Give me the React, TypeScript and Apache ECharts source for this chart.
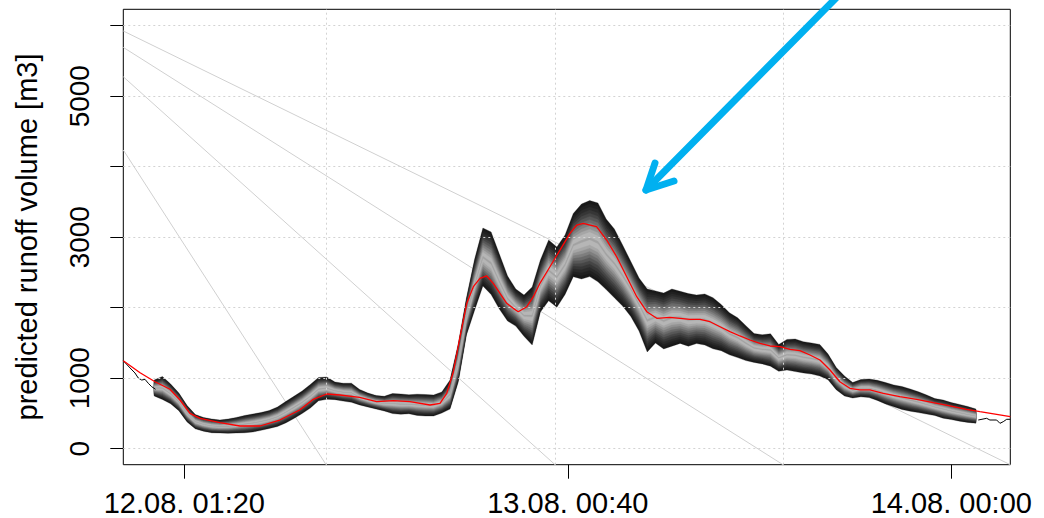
import React, { useEffect, useRef } from 'react';
import * as echarts from 'echarts';

// time in hours since 12.08. 00:00
const HOURS = [-0.5, 0, 0.5, 1, 1.5, 2, 2.5, 3, 3.5, 4, 4.5, 5, 5.5, 6, 6.5, 7, 7.5, 8, 8.5, 9, 9.5, 10, 10.5, 11, 11.5, 12, 12.5, 13, 13.5, 14, 14.5, 15, 15.5, 16, 16.5, 17, 17.5, 18, 18.5, 19, 19.5, 20, 20.5, 21, 21.5, 22, 22.5, 23, 23.5, 24, 24.5, 25, 25.5, 26, 26.5, 27, 27.5, 28, 28.5, 29, 29.5, 30, 30.5, 31, 31.5, 32, 32.5, 33, 33.5, 34, 34.5, 35, 35.5, 36, 36.5, 37, 37.5, 38, 38.5, 39, 39.5, 40, 40.5, 41, 41.5, 42, 42.5, 43, 43.5, 44, 44.5, 45, 45.5, 46, 46.5, 47, 47.5, 48, 48.5, 49, 49.5];

const ENS_UPPER = [974, 1024, 918, 790, 613, 485, 443, 421, 407, 421,
  443, 471, 492, 513, 542, 591, 669, 743, 818, 911,
  1010, 1017, 946, 928, 929, 840, 790, 755, 743, 783,
  776, 765, 773, 769, 762, 804, 974, 1485, 2138, 2691,
  3130, 3074, 2762, 2450, 2265, 2180, 2294, 2677, 2960, 2861,
  3031, 3336, 3471, 3520, 3485, 3258, 3116, 2889, 2655, 2421,
  2265, 2237, 2208, 2265, 2233, 2200, 2180, 2194, 2142, 2045,
  1928, 1857, 1745, 1634, 1616, 1630, 1478, 1550, 1556, 1518,
  1499, 1479, 1343, 1152, 1031, 939, 982, 990, 970, 939,
  904, 882, 847, 808, 762, 711, 691, 654, 628, 599,
  563];

const ENS_LOWER = [748, 698, 638, 539, 380, 282, 248, 226, 223, 218,
  223, 226, 237, 260, 287, 315, 365, 428, 498, 577,
  679, 701, 696, 675, 658, 621, 591, 563, 535, 498,
  488, 496, 472, 464, 464, 506, 563, 946, 1613, 1967,
  2308, 2187, 1981, 1811, 1739, 1594, 1471, 1939, 2099, 2006,
  2189, 2440, 2408, 2441, 2367, 2258, 2140, 2024, 1875, 1669,
  1372, 1499, 1416, 1455, 1494, 1454, 1492, 1471, 1417, 1390,
  1332, 1292, 1250, 1224, 1203, 1170, 1098, 1116, 1094, 1075,
  1058, 1031, 977, 835, 748, 719, 736, 725, 685, 634,
  594, 556, 532, 512, 491, 471, 433, 413, 391, 373,
  362];

const MEDIAN_T = [-2.38, -1.36, -0.45, 0.46, 1.07, 1.68, 2.29, 3.5, 4.72, 5.94, 7.14, 8.35, 9.18, 10.0, 10.8, 12.0, 13.04, 14.05, 15.06, 16.28, 16.89, 17.3, 17.7, 18.11, 18.52, 18.92, 19.32, 19.73, 20.13, 20.54, 20.95, 21.35, 21.65, 22.17, 22.57, 22.97, 23.58, 24.19, 24.8, 25.21, 25.61, 26.02, 26.42, 27.03, 27.64, 28.25, 28.86, 29.47, 30.08, 30.88, 31.49, 32.1, 32.71, 33.32, 33.93, 34.53, 35.14, 35.75, 36.36, 36.97, 37.58, 38.18, 38.79, 39.4, 40.01, 40.62, 41.22, 41.83, 42.44, 43.05, 43.86, 44.87, 45.89, 46.9, 47.92, 48.93, 49.74, 50.76, 51.59];
const MEDIAN_V = [1248, 1078, 950, 843, 691, 502, 431, 369, 322, 322, 407, 549, 701, 776, 762, 729, 667, 681, 667, 620, 644, 786, 1088, 1589, 2062, 2298, 2417, 2450, 2346, 2204, 2062, 1991, 1943, 2014, 2156, 2346, 2581, 2818, 3055, 3173, 3197, 3173, 3149, 2960, 2723, 2440, 2156, 1943, 1850, 1864, 1850, 1835, 1835, 1801, 1730, 1660, 1599, 1542, 1495, 1457, 1447, 1410, 1390, 1329, 1258, 1116, 950, 857, 833, 833, 786, 738, 701, 652, 606, 559, 525, 488, 454];

const OBS_START_T = [-2.38, -1.97, -1.67, -1.47, -1.26, -1.06, -0.86, -0.65, -0.42];
const OBS_START_V = [1248, 1145, 1074, 1003, 974, 984, 928, 879, 843];
const OBS_END_T = [49.64, 50.15, 50.35, 50.76, 50.96, 51.16, 51.37, 51.59];
const OBS_END_V = [407, 431, 407, 407, 360, 383, 417, 417];

const Y_TICKS = [0, 1000, 2000, 3000, 4000, 5000, 6000];
const Y_LABELS = [0, 1000, 3000, 5000];
const X_TICKS = [1.3333, 24.6667, 48];
const X_LABELS = ['12.08. 01:20', '13.08. 00:40', '14.08. 00:00'];
const X_GRID = [9.96, 23.89, 37.76];

// light grey guide lines: start value on the left edge, end time on the bottom edge
const GUIDE_START_V = [4237, 5276, 5693, 5925];
const GUIDE_END_T = [9.96, 23.89, 37.76, 51.59];

const X_MIN = -2.38;
const X_MAX = 51.59;
const Y_MIN = -227;
const Y_MAX = 6233;

const FONT = "'Liberation Sans', Arial, Helvetica, sans-serif";
const BAND_COLORS = ['#181818', '#202020', '#2a2a2a', '#363636', '#454545', '#575757', '#6a6a6a', '#7e7e7e', '#929292', '#a6a6a6', '#b6b6b6', '#a2a2a2'];

export default function App() {
  const ref = useRef<HTMLDivElement>(null);
  useEffect(() => {
    document.body.style.margin = '0';
    if (!ref.current) return;
    const chart = echarts.init(ref.current, undefined, { renderer: 'svg' });
    const K = BAND_COLORS.length;
    const bandSeries: any = {
      type: 'custom',
      coordinateSystem: 'cartesian2d',
      z: 3,
      silent: true,
      data: BAND_COLORS.map((_, k) => [k, k]),
      encode: { x: 0, y: 1 },
      renderItem: (params: any, api: any) => {
        const k = params.dataIndex;
        const a = k === K - 1 ? 0.485 : (k / (K - 1)) * 0.46;
        const b = 1 - a;
        const pts: number[][] = [];
        for (let i = 0; i < HOURS.length; i++) {
          const lo = ENS_LOWER[i];
          const hi = ENS_UPPER[i];
          pts.push(api.coord([HOURS[i], lo + b * (hi - lo)]));
        }
        for (let i = HOURS.length - 1; i >= 0; i--) {
          const lo = ENS_LOWER[i];
          const hi = ENS_UPPER[i];
          pts.push(api.coord([HOURS[i], lo + a * (hi - lo)]));
        }
        return {
          type: 'polygon',
          shape: { points: pts },
          style: { fill: BAND_COLORS[k], stroke: BAND_COLORS[k], lineWidth: 0.3 },
        };
      },
    };

    const guideSeries = GUIDE_START_V.map((v, i) => ({
      type: 'line',
      silent: true,
      z: 2,
      symbol: 'none',
      data: [[X_MIN, v], [GUIDE_END_T[i], Y_MIN]],
      lineStyle: { color: '#d0d0d0', width: 1 },
    }));

    const dotted = { color: '#d3d3d3', width: 1, type: [2, 3] as any };

    const option: any = {
      animation: false,
      textStyle: { fontFamily: FONT },
      grid: {
        left: 123.3, right: 33.7, top: 9.3, bottom: 53.3,
        show: true, borderColor: '#000', borderWidth: 1,
        outerBoundsMode: 'none',
      },
      xAxis: {
        type: 'value', min: X_MIN, max: X_MAX,
        axisLine: { show: false, onZero: false },
        splitLine: { show: false },
        axisTick: { show: true, customValues: X_TICKS, length: 14, lineStyle: { color: '#000' } },
        axisLabel: {
          customValues: X_TICKS, fontSize: 29, color: '#000', margin: 24, fontFamily: FONT,
          formatter: (v: number) => {
            const i = X_TICKS.findIndex((t) => Math.abs(t - v) < 0.01);
            return i >= 0 ? X_LABELS[i] : '';
          },
        },
      },
      yAxis: {
        type: 'value', min: Y_MIN, max: Y_MAX,
        axisLine: { show: false, onZero: false },
        splitLine: { show: false },
        axisTick: { show: true, customValues: Y_TICKS, length: 13, lineStyle: { color: '#000' } },
        axisLabel: {
          customValues: Y_LABELS, rotate: 90, fontSize: 28, color: '#000', margin: 30, fontFamily: FONT,
          formatter: (v: number) => String(v),
        },
        name: 'predicted runoff volume [m3]',
        nameLocation: 'middle',
        nameGap: 82,
        nameTextStyle: { fontSize: 29, color: '#000', fontFamily: FONT },
      },
      graphic: [
        {
          type: 'line', z: 100,
          shape: { x1: 840, y1: -6, x2: 646, y2: 190 },
          style: { stroke: '#00b0f0', lineWidth: 7, lineCap: 'round' },
        },
        {
          type: 'polyline', z: 100,
          shape: { points: [[655, 163], [646, 190], [674, 181]] },
          style: { stroke: '#00b0f0', lineWidth: 7, lineCap: 'round', lineJoin: 'round', fill: null },
        },
      ],
      series: [
        {
          type: 'line', data: [], silent: true, z: 1,
          markLine: {
            silent: true, symbol: 'none', label: { show: false },
            lineStyle: dotted,
            data: [
              ...X_GRID.map((x) => ({ xAxis: x })),
              ...Y_TICKS.map((y) => ({ yAxis: y })),
            ],
          },
        },
        ...guideSeries,
        bandSeries,
        {
          type: 'line', z: 4, symbol: 'none', silent: true,
          data: OBS_START_T.map((t, i) => [t, OBS_START_V[i]]),
          lineStyle: { color: '#000', width: 1 },
        },
        {
          type: 'line', z: 4, symbol: 'none', silent: true,
          data: OBS_END_T.map((t, i) => [t, OBS_END_V[i]]),
          lineStyle: { color: '#000', width: 1 },
        },
        {
          type: 'line', z: 5, symbol: 'none', silent: true,
          data: MEDIAN_T.map((t, i) => [t, MEDIAN_V[i]]),
          lineStyle: { color: '#ff0000', width: 1.3 },
        },
      ],
    };
    chart.setOption(option);
    return () => chart.dispose();
  }, []);
  return <div ref={ref} style={{ width: 1044, height: 518 }} />;
}
